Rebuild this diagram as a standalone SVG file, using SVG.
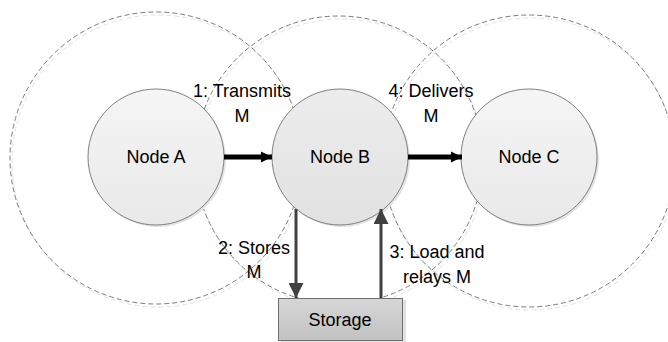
<svg xmlns="http://www.w3.org/2000/svg" width="668" height="342" viewBox="0 0 668 342">
<defs>
<linearGradient id="nodeGrad" x1="0" y1="0" x2="0" y2="1">
<stop offset="0" stop-color="#f5f5f5"/>
<stop offset="1" stop-color="#e9e9e9"/>
</linearGradient>
<linearGradient id="nodeGradB" x1="0" y1="0" x2="0" y2="1">
<stop offset="0" stop-color="#ececec"/>
<stop offset="1" stop-color="#e2e2e2"/>
</linearGradient>
<linearGradient id="boxGrad" x1="0" y1="0" x2="0" y2="1">
<stop offset="0" stop-color="#d6d6d6"/>
<stop offset="1" stop-color="#c2c2c2"/>
</linearGradient>
<marker id="headBlack" viewBox="0 0 10 10" refX="10" refY="5" markerWidth="2.2" markerHeight="3.2" markerUnits="strokeWidth" orient="auto">
<path d="M0,0 L10,5 L0,10 z" fill="#000"/>
</marker>
<marker id="headGray" viewBox="0 0 10 10" refX="10" refY="5" markerWidth="6" markerHeight="5" markerUnits="strokeWidth" orient="auto">
<path d="M0,0 L10,5 L0,10 z" fill="#404040"/>
</marker>
</defs>
<style>
.range{fill:none;stroke:#7a7a7a;stroke-width:1;stroke-dasharray:5 3}
.rangeShadow{fill:none;stroke:#e2e2e2;stroke-width:1;stroke-dasharray:5 3}
.node{stroke:#7f7f7f;stroke-width:1}
.shadow{fill:#e4e4e4}
.lbl{font-family:"Liberation Sans",Arial,sans-serif;font-size:18px;fill:#000;text-anchor:middle}
.thick{stroke:#000;stroke-width:5;fill:none}
.gray{stroke:#404040;stroke-width:3;fill:none}
</style>

<g id="ranges">
<circle class="rangeShadow" cx="158" cy="161" r="146"/>
<circle class="rangeShadow" cx="341" cy="163" r="144"/>
<circle class="rangeShadow" cx="531" cy="164" r="146"/>
<circle class="range" cx="156" cy="158" r="146"/>
<circle class="range" cx="339" cy="160" r="144"/>
<circle class="range" cx="529" cy="161" r="146"/>
</g>

<g id="labels">
<text class="lbl" x="242" y="97">1: Transmits</text>
<text class="lbl" x="242" y="122">M</text>
<text class="lbl" x="431" y="97">4: Delivers</text>
<text class="lbl" x="431" y="122">M</text>
<text class="lbl" x="254" y="254">2: Stores</text>
<text class="lbl" x="254" y="278">M</text>
<text class="lbl" x="437" y="258">3: Load and</text>
<text class="lbl" x="437" y="283">relays M</text>
</g>

<g id="nodeA">
<circle class="shadow" cx="158" cy="159" r="68"/>
<circle class="node" cx="156" cy="157" r="68" fill="url(#nodeGrad)"/>
<text class="lbl" x="156" y="163">Node A</text>
</g>

<g id="nodeB">
<circle class="shadow" cx="342" cy="159" r="68"/>
<circle class="node" cx="340" cy="157" r="68" fill="url(#nodeGradB)"/>
<text class="lbl" x="340" y="163">Node B</text>
</g>

<g id="nodeC">
<circle class="shadow" cx="531" cy="159" r="68"/>
<circle class="node" cx="529" cy="157" r="68" fill="url(#nodeGrad)"/>
<text class="lbl" x="529" y="163">Node C</text>
</g>

<g id="storage">
<rect x="281" y="300" width="125" height="42" fill="#e2e2e2"/>
<rect x="278.5" y="298.5" width="124" height="42" fill="url(#boxGrad)" stroke="#6f6f6f" stroke-width="1"/>
<text class="lbl" x="340" y="326">Storage</text>
</g>

<g id="connectors">
<line class="thick" x1="224" y1="157" x2="272" y2="157" marker-end="url(#headBlack)"/>
<line class="thick" x1="408" y1="157" x2="462" y2="157" marker-end="url(#headBlack)"/>
<line class="gray" x1="296" y1="209" x2="296" y2="298" marker-end="url(#headGray)"/>
<line class="gray" x1="381" y1="298" x2="381" y2="209" marker-end="url(#headGray)"/>
</g>
</svg>
